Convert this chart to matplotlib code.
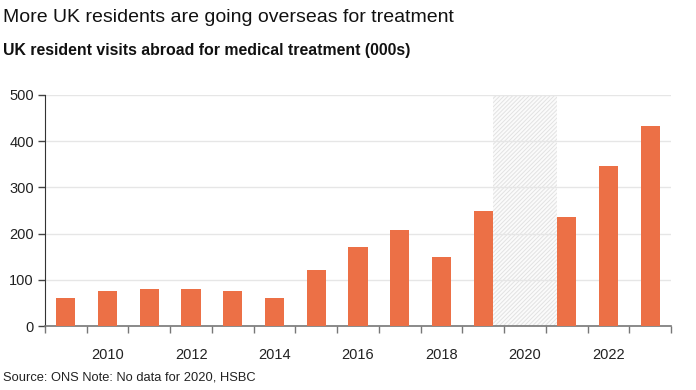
import matplotlib
matplotlib.use("Agg")
import matplotlib.pyplot as plt
from matplotlib import font_manager as fm

names = sorted({f.name for f in fm.fontManager.ttflist})
narrow = "Liberation Sans Narrow" if "Liberation Sans Narrow" in names else "Liberation Sans"

years = [2009, 2010, 2011, 2012, 2013, 2014, 2015, 2016, 2017, 2018, 2019, 2020, 2021, 2022, 2023]
visits = [60, 76, 80, 80, 76, 60, 121, 171, 208, 149, 249, None, 236, 347, 432]
yticks = [0, 100, 200, 300, 400, 500]
xlabel_years = [2010, 2012, 2014, 2016, 2018, 2020, 2022]
missing_year = 2020

title = "More UK residents are going overseas for treatment"
subtitle = "UK resident visits abroad for medical treatment (000s)"
source = "Source: ONS Note: No data for 2020, HSBC"

bar_color = "#EC7046"
bar_w = 0.46

plt.rcParams["hatch.linewidth"] = 0.7
fig = plt.figure(figsize=(6.96, 3.90), dpi=100)
ax = fig.add_axes([45/696, 64/390, 626/696, 231/390])

idx = list(range(len(years)))
xs = [i for i, v in zip(idx, visits) if v is not None]
vs = [v for v in visits if v is not None]
ax.bar(xs, vs, width=bar_w, color=bar_color, zorder=3)

mi = years.index(missing_year)
ax.axvspan(mi - 1 + bar_w/2, mi + 1 - bar_w/2, facecolor="#fbfbfb", edgecolor="#e2e2e2",
           hatch="////////", linewidth=0, zorder=0.2)

ax.set_xlim(-0.5, len(years) - 0.5)
ax.set_ylim(0, 500)
ax.set_yticks(yticks)
ax.set_yticklabels([str(t) for t in yticks], fontfamily=narrow, fontsize=10.5, color="#222222")
ax.set_xticks([i + 0.5 for i in range(-1, len(years))])
ax.set_xticklabels([])
ax.set_xticks([years.index(y) for y in xlabel_years], minor=True)
ax.set_xticklabels([str(y) for y in xlabel_years], minor=True, fontfamily=narrow, fontsize=10.5, color="#222222")
ax.tick_params(axis="x", which="major", length=5, color="#777777", width=1)
ax.tick_params(axis="x", which="minor", length=0, pad=16)
ax.tick_params(axis="y", length=5, color="#444444", width=1, pad=3)

ax.set_axisbelow(True)
ax.grid(axis="y", color="#e6e6e6", linewidth=1)
for s in ["top", "right"]:
    ax.spines[s].set_visible(False)
ax.spines["left"].set_color("#333333")
ax.spines["bottom"].set_color("#777777")
ax.spines["bottom"].set_linewidth(1.2)

fig.text(3/696, 1 - 18/390, title, fontfamily="Liberation Sans", fontsize=14, va="center", ha="left", color="#111111")
fig.text(3/696, 1 - 50/390, subtitle, fontfamily="Liberation Sans", fontsize=11.4, fontweight="bold", va="center", ha="left", color="#111111")
fig.text(3/696, 1 - 378/390, source, fontfamily=narrow, fontsize=9.3, va="center", ha="left", color="#222222")

fig.savefig("out.png", dpi=100)
